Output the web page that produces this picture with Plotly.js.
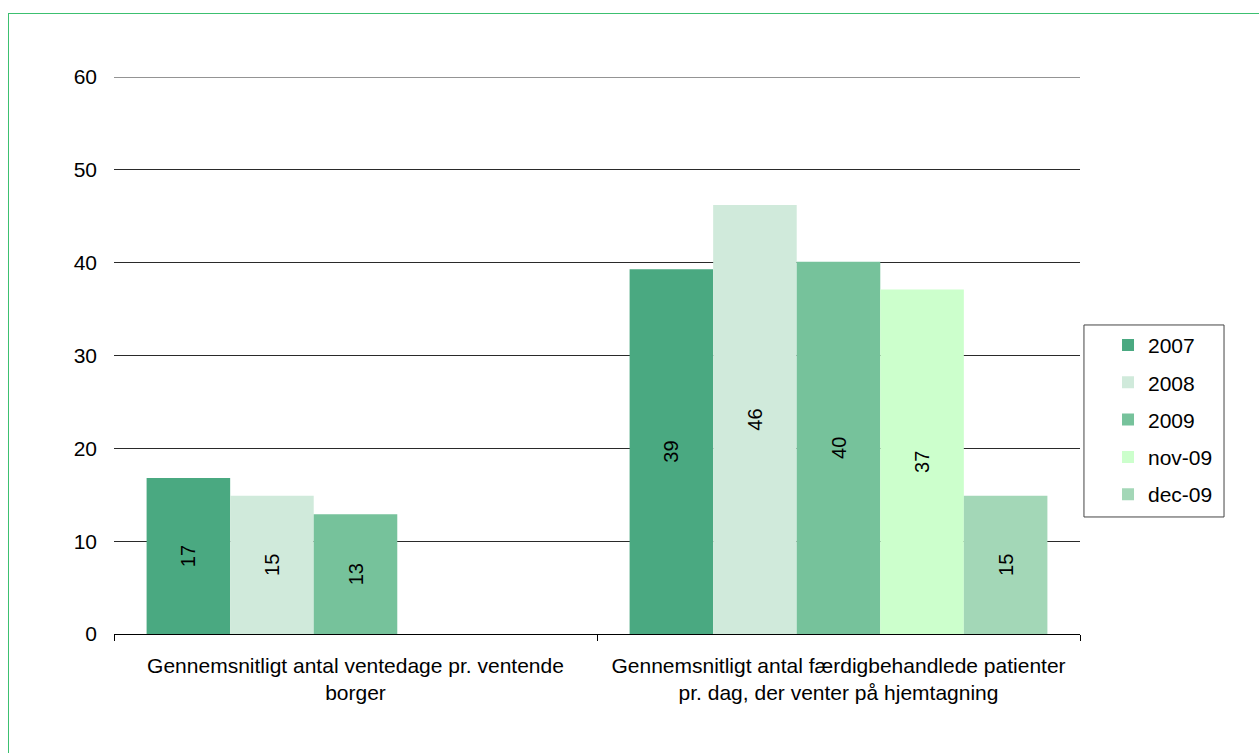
<!DOCTYPE html>
<html>
<head>
<meta charset="utf-8">
<script src="https://cdn.plot.ly/plotly-3.0.1.min.js"></script>
<style>
  html, body { margin: 0; padding: 0; background: #fff; }
  #wrap { position: relative; width: 1259px; height: 753px; overflow: hidden; }
  #chart { position: absolute; left: 0; top: 0; width: 1259px; height: 753px; }
  #frame { position: absolute; left: 8px; top: 13px; width: 1260px; height: 760px; border: 1px solid #3cc070; pointer-events: none; }
</style>
</head>
<body>
<div id="wrap">
  <div id="chart"></div>
  <div id="frame"></div>
</div>
<script>
const categories = [
  "Gennemsnitligt antal ventedage pr. ventende<br>borger",
  "Gennemsnitligt antal færdigbehandlede patienter<br>pr. dag, der venter på hjemtagning"
];
const seriesNames = ["2007", "2008", "2009", "nov-09", "dec-09"];
const values2007 = [16.8, 39.3];
const values2008 = [14.9, 46.2];
const values2009 = [12.9, 40.1];
const valuesNov09 = [null, 37.1];
const valuesDec09 = [null, 14.9];
const seriesColors = ["#4aa981", "#d0eadb", "#76c29b", "#ccffcc", "#a3d7b7"];
const yMax = 60;

const allValues = [values2007, values2008, values2009, valuesNov09, valuesDec09];
const FONT = "Liberation Sans, Arial, sans-serif";

const traces = seriesNames.map((name, i) => ({
  type: "bar",
  name: name,
  x: categories,
  y: allValues[i],
  marker: { color: seriesColors[i], line: { width: 0 } },
  texttemplate: "%{y:.0f}",
  textposition: "inside",
  insidetextanchor: "middle",
  textangle: -90,
  textfont: { family: FONT, size: 20, color: "#000" },
  legendgroup: name,
  hoverinfo: "skip"
}));

const layout = {
  width: 1259,
  height: 753,
  margin: { l: 114, r: 179, t: 77, b: 119 },
  paper_bgcolor: "#fff",
  plot_bgcolor: "#fff",
  font: { family: FONT, size: 21, color: "#000" },
  barmode: "group",
  bargap: 0.135,
  bargroupgap: 0,
  showlegend: true,
  legend: {
    x: 1.029, xanchor: "left",
    y: 0.555, yanchor: "top",
    bgcolor: "rgba(0,0,0,0)",
    borderwidth: 0,
    tracegroupgap: 7,
    font: { family: FONT, size: 21, color: "#000" }
  },
  xaxis: {
    type: "category",
    showgrid: false,
    showline: false,
    ticks: "outside",
    tickson: "boundaries",
    ticklen: 6,
    tickcolor: "#000",
    ticklabelstandoff: 17,
    tickfont: { size: 21 }
  },
  yaxis: {
    range: [0, yMax],
    dtick: 10,
    showgrid: true,
    gridcolor: "#2a2a2a",
    gridwidth: 1,
    zeroline: true,
    zerolinecolor: "#000",
    zerolinewidth: 1,
    showline: false,
    ticks: "",
    ticklabelstandoff: 16,
    tickfont: { size: 21 }
  },
  shapes: [
    {
      type: "line", xref: "paper", yref: "y",
      x0: 0, x1: 1, y0: yMax, y1: yMax,
      line: { color: "#2a2a2a", width: 1 }
    },
    {
      type: "rect", xref: "paper", yref: "paper",
      x0: 1.0041, x1: 1.1491, y0: 0.2101, y1: 0.5548,
      line: { color: "#444", width: 1 }, fillcolor: "rgba(0,0,0,0)"
    }
  ]
};

Plotly.newPlot("chart", traces, layout, { displayModeBar: false, staticPlot: true });
</script>
</body>
</html>
